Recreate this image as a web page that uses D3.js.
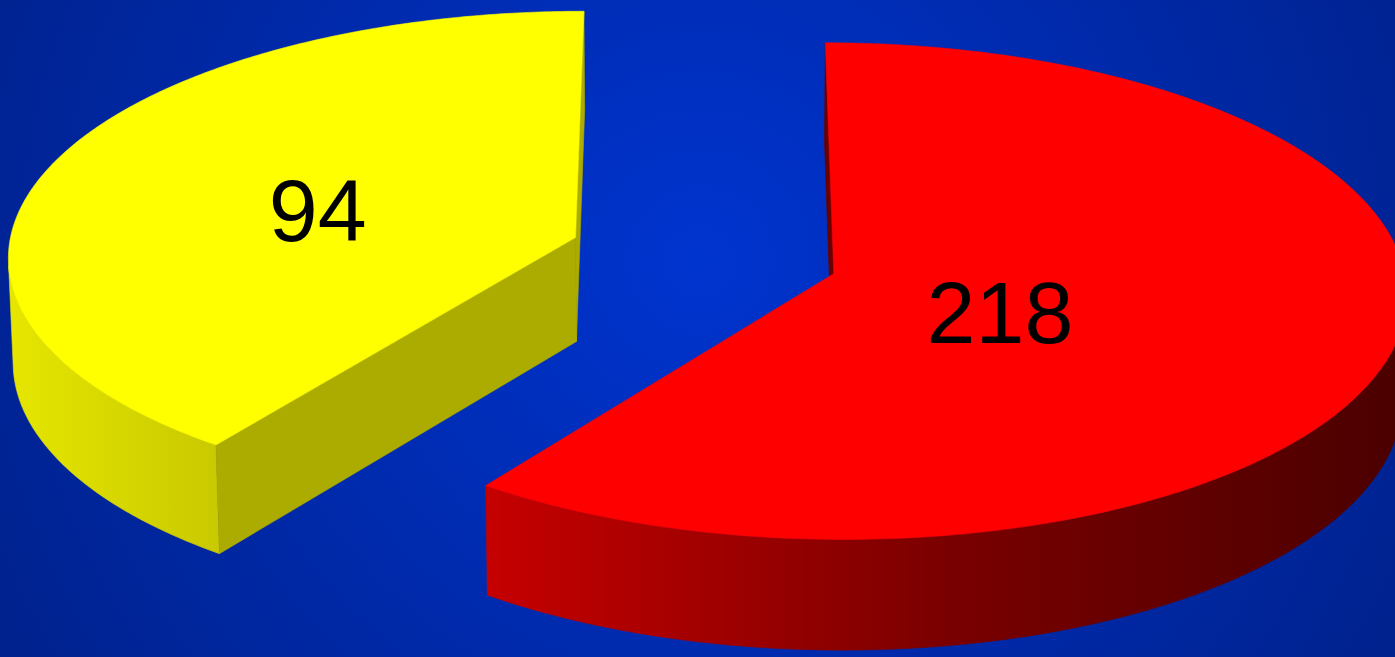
<!DOCTYPE html>
<html><head><meta charset="utf-8">
<script src="https://cdn.jsdelivr.net/npm/d3@7"></script>
<style>html,body{margin:0;padding:0;overflow:hidden;background:#002ab8}</style>
</head><body><svg id="chart" width="1395" height="657" xmlns="http://www.w3.org/2000/svg"></svg>
<script>
// ---- data ----
const sliceLabels = ["218", "94"];          // text printed on each slice
const sliceValues = [218, 94];              // values shown by the labels
const drawnShares = [60, 40];               // share of the circle each slice occupies as drawn (%)

// ---- style ----
const topFill  = ["#ff0000", "#ffff00"];
const cutFill  = ["#6a0000", "#abab00"];
const sideStops = [
  [["0%", "#c60000"], ["50%", "#7a0000"], ["100%", "#4a0000"]],
  [["0%", "#e6e600"], ["100%", "#c9c900"]]
];

const W = 1395, H = 657;
const svg = d3.select("#chart");
const defs = svg.append("defs");

// background radial gradient
const bg = defs.append("radialGradient").attr("id", "bg")
  .attr("gradientUnits", "userSpaceOnUse").attr("cx", 700).attr("cy", 260).attr("r", 780);
bg.append("stop").attr("offset", "0%").attr("stop-color", "#0034cf");
bg.append("stop").attr("offset", "100%").attr("stop-color", "#00228f");
svg.append("rect").attr("width", W).attr("height", H).attr("fill", "url(#bg)");

// ---- 3D perspective camera ----
const cam = { cx: 704, cy: 255.5, k: 568, elev: 25.5 * Math.PI / 180, D: 12.9 };
const F = cam.k * cam.D;
const ce = Math.cos(cam.elev), se = Math.sin(cam.elev);
const camPos = [0, -cam.D * ce, cam.D * se];   // (u, v, y) world position of the eye
const thick = 0.205;      // slab thickness (radius units)
const explode = 0.239;    // explosion distance (radius units)
const labelPull = 0.94;   // label sits this far from apex toward the top-face centroid

function project(u, v, y) {
  const zc = cam.D + v * ce - y * se;
  const yc = v * se + y * ce;
  return [cam.cx + F * u / zc, cam.cy - F * yc / zc];
}

const pie = d3.pie().sort(null).startAngle(0).endAngle(2 * Math.PI);
const arcs = pie(drawnShares);
const line = d3.line();
const N = 240;

arcs.forEach((a, i) => {
  const mid = (a.startAngle + a.endAngle) / 2;
  const ax = explode * Math.sin(mid), av = explode * Math.cos(mid);
  const rim = t => [ax + Math.sin(t), av + Math.cos(t)];
  const angles = d3.range(N + 1).map(j => a.startAngle + (a.endAngle - a.startAngle) * j / N);
  const g = svg.append("g").attr("class", "slice-" + i);

  // outer curved side: visible segments only
  const vis = angles.map(t => {
    const [u, v] = rim(t);
    return Math.sin(t) * (camPos[0] - u) + Math.cos(t) * (camPos[1] - v) > 0;
  });
  const runs = [];
  let cur = null;
  angles.forEach((t, j) => {
    if (vis[j]) { if (!cur) { cur = []; runs.push(cur); } cur.push(t); } else cur = null;
  });
  const gid = "side" + i;
  const allSidePts = [];
  const sidePolys = runs.map(run => {
    const topPts = run.map(t => { const [u, v] = rim(t); return project(u, v, 0); });
    const botPts = run.map(t => { const [u, v] = rim(t); return project(u, v, -thick); }).reverse();
    const poly = topPts.concat(botPts);
    allSidePts.push(...poly);
    return poly;
  });
  if (allSidePts.length) {
    const xs = d3.extent(allSidePts, p => p[0]);
    const lg = defs.append("linearGradient").attr("id", gid).attr("gradientUnits", "userSpaceOnUse")
      .attr("x1", xs[0]).attr("x2", xs[1]).attr("y1", 0).attr("y2", 0);
    sideStops[i].forEach(s => lg.append("stop").attr("offset", s[0]).attr("stop-color", s[1]));
  }
  sidePolys.forEach(poly => {
    g.append("path").attr("d", line(poly) + "Z").attr("fill", "url(#" + gid + ")")
      .attr("stroke", "url(#" + gid + ")").attr("stroke-width", 0.6);
  });

  // radial cut faces
  [[a.startAngle, -1], [a.endAngle, 1]].forEach(([t, s]) => {
    const n = s < 0 ? [-Math.cos(t), Math.sin(t)] : [Math.cos(t), -Math.sin(t)];
    const dot = n[0] * (camPos[0] - ax) + n[1] * (camPos[1] - av);
    if (dot <= 0) return;
    const [ru, rv] = rim(t);
    const quad = [project(ax, av, 0), project(ru, rv, 0), project(ru, rv, -thick), project(ax, av, -thick)];
    g.append("path").attr("d", line(quad) + "Z").attr("fill", cutFill[i])
      .attr("stroke", cutFill[i]).attr("stroke-width", 0.6);
  });

  // top face
  const apexPt = project(ax, av, 0);
  const topPoly = [apexPt].concat(angles.map(t => { const [u, v] = rim(t); return project(u, v, 0); }));
  g.append("path").attr("d", line(topPoly) + "Z").attr("fill", topFill[i])
    .attr("stroke", topFill[i]).attr("stroke-width", 0.6);

  // label
  const c = d3.polygonCentroid(topPoly);
  const lx = apexPt[0] + (c[0] - apexPt[0]) * labelPull;
  const ly = apexPt[1] + (c[1] - apexPt[1]) * labelPull - 3;
  g.append("text").attr("x", lx).attr("y", ly)
    .attr("text-anchor", "middle").attr("dominant-baseline", "central")
    .attr("font-family", "'Liberation Sans', Arial, sans-serif").attr("font-size", 88)
    .attr("fill", "#000").text(sliceLabels[i]);
});
</script>
</body></html>
